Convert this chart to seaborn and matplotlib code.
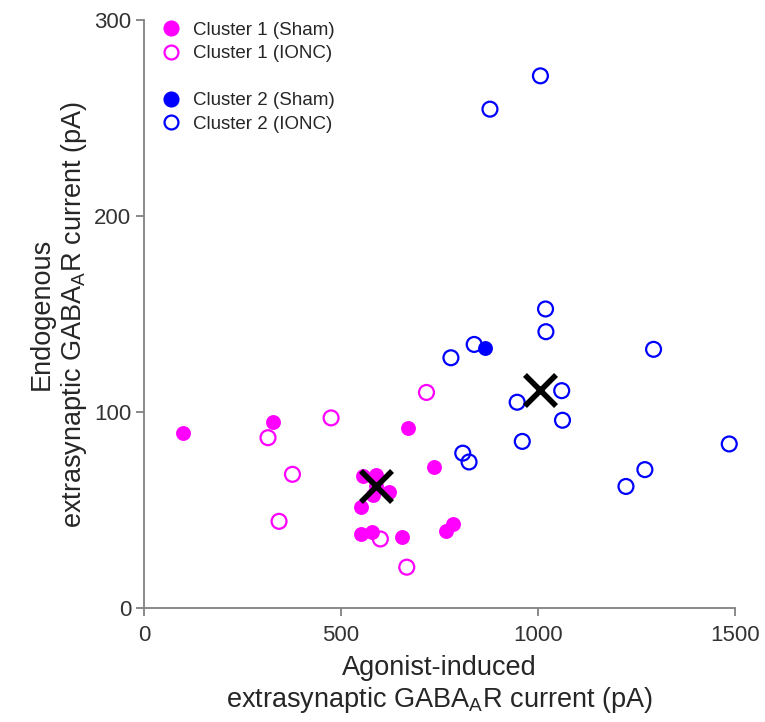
import matplotlib
matplotlib.use("Agg")
import matplotlib.pyplot as plt
import seaborn as sns
import pandas as pd
from matplotlib.lines import Line2D

# Data
c1_sham_x = [100, 328, 671, 737, 557, 589, 582, 623, 550, 552, 579, 654, 785, 766, 589]
c1_sham_y = [89.3, 94.7, 92, 72, 67.3, 68, 57.7, 59.3, 51.7, 37.6, 39, 36, 43, 39.5, 62]
c1_ionc_x = [315, 475, 717, 377, 343, 600, 667]
c1_ionc_y = [86.9, 97, 110, 68.2, 44.2, 35.2, 20.8]
c2_sham_x = [866]
c2_sham_y = [132.5]
c2_ionc_x = [878, 1006, 1019, 1020, 838, 779, 1293, 1060, 947, 1062, 960, 809, 825, 1485, 1271, 1223]
c2_ionc_y = [254.6, 271.6, 152.6, 141, 134.5, 127.7, 132, 110.9, 105, 95.8, 85, 79, 74.5, 83.7, 70.6, 62]
centroid_x = [589, 1005]
centroid_y = [62, 111]

labels = ["Cluster 1 (Sham)", "Cluster 1 (IONC)", "Cluster 2 (Sham)", "Cluster 2 (IONC)"]
MAG = "#ff00ff"
BLU = "#0000ff"

sns.set_style("white")
plt.rcParams['font.family'] = ['Liberation Sans', 'DejaVu Sans']
plt.rcParams['mathtext.fontset'] = 'custom'
plt.rcParams['mathtext.rm'] = 'Liberation Sans'
plt.rcParams['mathtext.it'] = 'Liberation Sans'

fig = plt.figure(figsize=(7.65, 7.22), dpi=100)
ax = fig.add_axes([0.188, 0.158, 0.773, 0.814])

def df(x, y):
    return pd.DataFrame({"x": x, "y": y})

sns.scatterplot(data=df(c1_sham_x, c1_sham_y), x="x", y="y", ax=ax, s=115,
                color=MAG, edgecolor=MAG, linewidth=0, zorder=3, clip_on=False)
sns.scatterplot(data=df(c1_ionc_x, c1_ionc_y), x="x", y="y", ax=ax, s=115,
                facecolors="none", edgecolor=MAG, linewidth=1.6, zorder=3, clip_on=False)
sns.scatterplot(data=df(c2_sham_x, c2_sham_y), x="x", y="y", ax=ax, s=115,
                color=BLU, edgecolor=BLU, linewidth=0, zorder=3, clip_on=False)
sns.scatterplot(data=df(c2_ionc_x, c2_ionc_y), x="x", y="y", ax=ax, s=115,
                facecolors="none", edgecolor=BLU, linewidth=1.6, zorder=3, clip_on=False)
sns.scatterplot(data=df(centroid_x, centroid_y), x="x", y="y", ax=ax, s=500,
                marker="x", color="black", linewidth=4, zorder=4)

ax.set_xlim(0, 1500)
ax.set_ylim(0, 300)
ax.set_xticks([0, 500, 1000, 1500])
ax.set_yticks([0, 100, 200, 300])
sns.despine(ax=ax)
for sp in ["left", "bottom"]:
    ax.spines[sp].set_color("#808080")
    ax.spines[sp].set_linewidth(1.3)
ax.tick_params(axis="both", which="major", direction="out", length=6, width=1.3,
               color="#808080", labelsize=16, labelcolor="#333333", bottom=True, left=True,
               pad=3)
ax.tick_params(axis="x", pad=6)

ax.set_xlabel("Agonist-induced\nextrasynaptic GABA$_\\mathrm{A}$R current (pA)", fontsize=19.5,
              labelpad=7, linespacing=1.15)
ax.set_ylabel("Endogenous\nextrasynaptic GABA$_\\mathrm{A}$R current (pA)", fontsize=19.5,
              labelpad=4, linespacing=1.15)

def h(fc, ec):
    return Line2D([], [], marker="o", linestyle="none", markersize=10,
                  markerfacecolor=fc, markeredgecolor=ec, markeredgewidth=1.6)

leg1 = ax.legend([h(MAG, MAG), h("none", MAG)], labels[:2], loc="upper left",
                 bbox_to_anchor=(-0.008, 1.02), frameon=False, fontsize=13.5,
                 handletextpad=0.2, labelspacing=0.35, borderaxespad=0.3)
ax.add_artist(leg1)
ax.legend([h(BLU, BLU), h("none", BLU)], labels[2:], loc="upper left",
          bbox_to_anchor=(-0.008, 0.90), frameon=False, fontsize=13.5,
          handletextpad=0.2, labelspacing=0.35, borderaxespad=0.3)

fig.savefig("out.png", dpi=100)
